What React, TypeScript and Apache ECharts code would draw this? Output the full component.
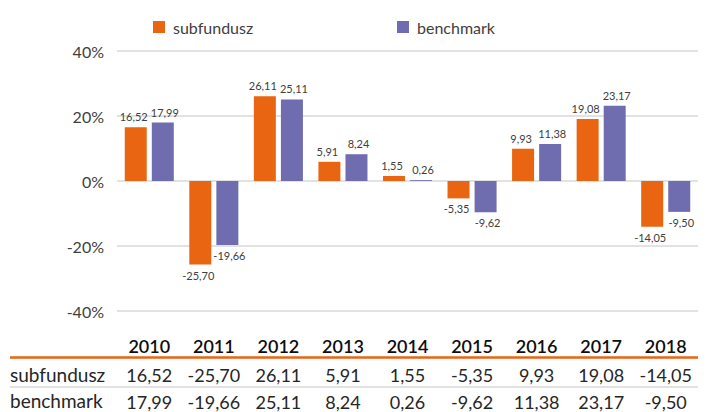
import React, { useEffect, useRef } from "react";
import * as echarts from "echarts";

const years = ["2010", "2011", "2012", "2013", "2014", "2015", "2016", "2017", "2018"];
const subfundusz = [16.52, -25.7, 26.11, 5.91, 1.55, -5.35, 9.93, 19.08, -14.05];
const benchmark = [17.99, -19.66, 25.11, 8.24, 0.26, -9.62, 11.38, 23.17, -9.5];
const seriesNames = ["subfundusz", "benchmark"];
const yTicks = { min: -40, max: 40, interval: 20 };

const ORANGE = "#E96511";
const PURPLE = "#6F6DAF";
const FONT = "Lato, 'Noto Sans', sans-serif";

const fmt = (v: number) => v.toFixed(2).replace(".", ",");

export default function App() {
  const ref = useRef<HTMLDivElement>(null);
  useEffect(() => {
    if (!ref.current) return;
    const chart = echarts.init(ref.current, undefined, { renderer: "svg" });
    const tableAxis = (values: number[], margin: number) => ({
      type: "category",
      data: years,
      gridIndex: 0,
      position: "bottom",
      axisLine: { show: false, onZero: false },
      axisTick: { show: false },
      splitLine: { show: false },
      axisLabel: {
        margin,
        interval: 0,
        fontFamily: FONT,
        fontSize: 18,
        color: "#262626",
        formatter: (_v: string, i: number) => fmt(values[i]),
      },
    });
    const barLabel = (dx: number) => ({
      show: true,
      position: "top",
      distance: 5,
      offset: [dx, 0],
      fontFamily: FONT,
      fontSize: 11,
      color: "#404040",
      formatter: (p: any) => fmt(p.value),
    });
    const legendStyle = { fontFamily: FONT, fontSize: 16, color: "#404040", padding: [0, 0, 0, 3] };
    chart.setOption({
      animation: false,
      backgroundColor: "#ffffff",
      textStyle: { fontFamily: FONT },
      legend: [
        {
          data: [seriesNames[0]],
          left: 148,
          top: 14,
          icon: "rect",
          itemWidth: 12,
          itemHeight: 12,
          textStyle: legendStyle,
        },
        {
          data: [seriesNames[1]],
          left: 392,
          top: 14,
          icon: "rect",
          itemWidth: 12,
          itemHeight: 12,
          textStyle: legendStyle,
        },
      ],
      grid: { left: 117, right: 12, top: 51, bottom: 101, containLabel: false },
      xAxis: [
        {
          type: "category",
          data: years,
          position: "bottom",
          axisLine: { show: false, onZero: false },
          axisTick: { show: false },
          axisLabel: {
            margin: 26,
            interval: 0,
            fontFamily: FONT,
            fontSize: 18,
            fontWeight: 600,
            color: "#0d0d0d",
          },
        },
        tableAxis(subfundusz, 55),
        tableAxis(benchmark, 82),
      ],
      yAxis: {
        type: "value",
        min: yTicks.min,
        max: yTicks.max,
        interval: yTicks.interval,
        axisLine: { show: false },
        axisTick: { show: false },
        splitLine: { lineStyle: { color: "#d9d9d9", width: 1.5 } },
        axisLabel: {
          margin: 13,
          fontFamily: FONT,
          fontSize: 16,
          color: "#404040",
          formatter: (v: number) => `${v}%`,
        },
      },
      series: [
        {
          name: seriesNames[0],
          type: "bar",
          data: subfundusz,
          barWidth: 22,
          barGap: "23%",
          itemStyle: { color: ORANGE },
          label: barLabel(-2),
        },
        {
          name: seriesNames[1],
          type: "bar",
          data: benchmark,
          barWidth: 22,
          barGap: "23%",
          itemStyle: { color: PURPLE },
          label: barLabel(2),
        },
      ].map((s: any) => ({
        ...s,
        data: s.data.map((v: number) => ({
          value: v,
          label: { position: v < 0 ? "bottom" : "top" },
        })),
      })),
      graphic: [
        {
          type: "line",
          shape: { x1: 10, y1: 357.5, x2: 698, y2: 357.5 },
          style: { stroke: ORANGE, lineWidth: 2.5 },
        },
        {
          type: "line",
          shape: { x1: 10, y1: 387, x2: 698, y2: 387 },
          style: { stroke: "#d9d9d9", lineWidth: 1.5 },
        },
        {
          type: "text",
          left: 10,
          top: 365,
          style: { text: seriesNames[0], fontFamily: FONT, fontSize: 19, fill: "#262626" },
        },
        {
          type: "text",
          left: 10,
          top: 391,
          style: { text: seriesNames[1], fontFamily: FONT, fontSize: 19, fill: "#262626" },
        },
      ],
    });
    return () => chart.dispose();
  }, []);
  return (
    <div
      ref={ref}
      style={{ position: "fixed", left: 0, top: 0, width: 710, height: 412, background: "#fff" }}
    />
  );
}
